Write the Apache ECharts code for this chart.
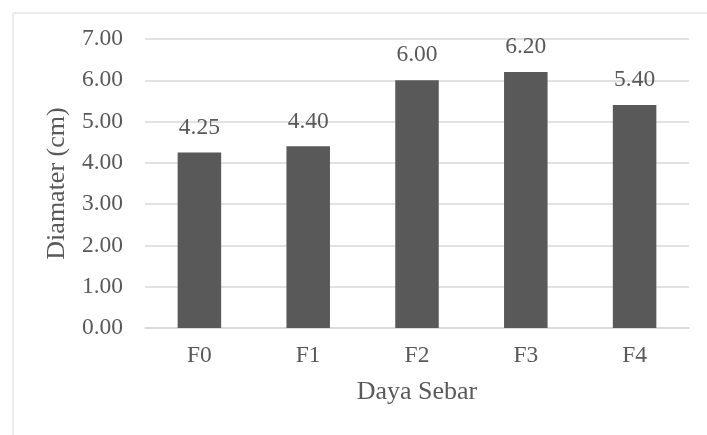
<!DOCTYPE html>
<html>
<head>
<meta charset="utf-8">
<script src="https://cdn.jsdelivr.net/npm/echarts@6/dist/echarts.min.js"></script>
<style>
  html, body { margin: 0; padding: 0; background: #fff; }
  #chart { width: 707px; height: 435px; }
</style>
</head>
<body>
<div id="chart"></div>
<script>
// Formula codes along the x axis
const categories = ['F0', 'F1', 'F2', 'F3', 'F4'];
// Spread diameter per formula (cm)
const diameters = [4.25, 4.40, 6.00, 6.20, 5.40];
// Y axis range
const yMin = 0;
const yMax = 7;
const yStep = 1;

const serif = '"Liberation Serif", "Times New Roman", serif';
const textColor = '#595959';

const chart = echarts.init(document.getElementById('chart'), null, { renderer: 'canvas' });
chart.setOption({
  animation: false,
  backgroundColor: '#ffffff',
  textStyle: { fontFamily: serif },
  graphic: [{
    type: 'rect',
    left: 10.5,
    top: 10.5,
    shape: { width: 720, height: 450 },
    style: { fill: 'none', stroke: '#d9d9d9', lineWidth: 1 },
    silent: true
  }],
  grid: { left: 145, right: 18, top: 39, bottom: 107 },
  xAxis: {
    type: 'category',
    data: categories,
    name: 'Daya Sebar',
    nameLocation: 'middle',
    nameGap: 51,
    nameTextStyle: { fontFamily: serif, fontSize: 26, color: textColor },
    axisLine: { show: true, lineStyle: { color: '#d9d9d9', width: 1.5 } },
    axisTick: { show: false },
    axisLabel: { fontFamily: serif, fontSize: 23.5, color: textColor, margin: 16 }
  },
  yAxis: {
    type: 'value',
    min: yMin,
    max: yMax,
    interval: yStep,
    name: 'Diamater (cm)',
    nameLocation: 'middle',
    nameGap: 75,
    nameTextStyle: { fontFamily: serif, fontSize: 26, color: textColor },
    axisLine: { show: false },
    axisTick: { show: false },
    splitLine: { lineStyle: { color: '#d9d9d9', width: 1.5 } },
    axisLabel: {
      fontFamily: serif, fontSize: 23.5, color: textColor, margin: 22,
      formatter: v => v.toFixed(2)
    }
  },
  series: [{
    type: 'bar',
    data: diameters,
    barWidth: '40%',
    itemStyle: { color: '#595959' },
    label: {
      show: true,
      position: 'top',
      distance: 13,
      fontFamily: serif,
      fontSize: 23.5,
      color: textColor,
      formatter: p => p.value.toFixed(2)
    }
  }]
});
</script>
</body>
</html>
